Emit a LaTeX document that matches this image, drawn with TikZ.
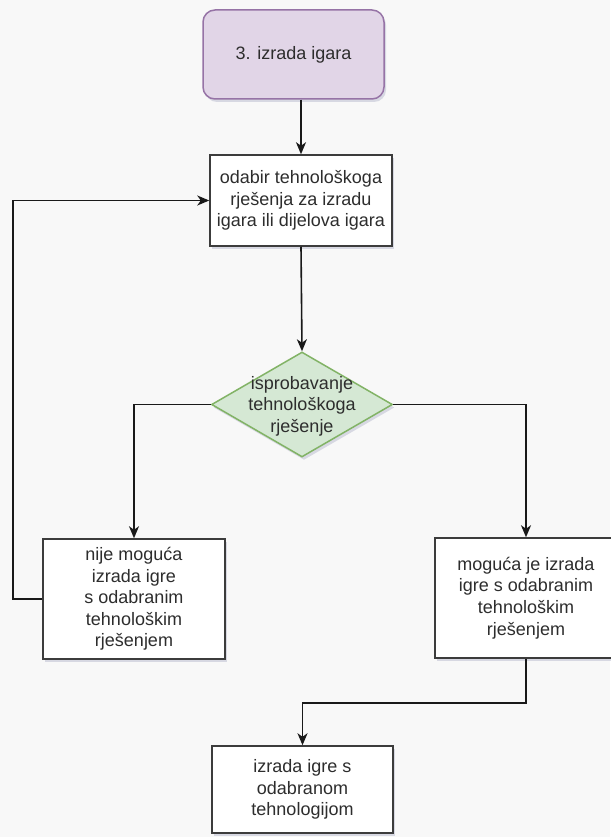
\documentclass[tikz,border=0pt]{standalone}
\usepackage{fontspec}
\setmainfont{Liberation Sans}
\usetikzlibrary{arrows.meta,shapes.geometric,shadows}
\definecolor{bgc}{RGB}{248,248,248}
\definecolor{txt}{RGB}{45,45,45}
\definecolor{lnc}{RGB}{25,25,25}
\definecolor{purfill}{RGB}{225,213,231}
\definecolor{purdraw}{RGB}{150,115,166}
\definecolor{grnfill}{RGB}{213,232,212}
\definecolor{grndraw}{RGB}{130,179,102}
\definecolor{shc}{RGB}{175,178,200}
\tikzset{
  shd/.style={drop shadow={shadow xshift=2pt,shadow yshift=-3pt,opacity=0.45,fill=shc}},
  label text/.style={font=\fontsize{18}{21.6}\selectfont, text=txt, align=center, inner sep=0pt},
  base/.style={label text, line width=1.5pt, shd},
  box/.style={base, rectangle, draw=lnc!85, fill=white},
  startbox/.style={base, rectangle, rounded corners=12pt, draw=purdraw, fill=purfill},
  decide/.style={base, diamond, aspect=1.72, draw=grndraw, fill=grnfill},
  conn/.style={draw=lnc, line width=1.6pt, -{Stealth[length=12pt,width=10pt,inset=3.5pt]}}
}
\begin{document}
\begin{tikzpicture}[x=1pt,y=-1pt]
\useasboundingbox[fill=bgc] (0,0) rectangle (610,837);
\node[startbox, minimum width=181pt, minimum height=89pt] (top) at (293.5,54.5) {3. izrada igara};
\node[box, minimum width=182pt, minimum height=91pt] (sel) at (301,200.5) {odabir tehnološkoga\\rješenja za izradu\\igara ili dijelova igara};
\node[decide, minimum width=181pt, minimum height=105pt] (dia) at (302,404.5) {};
\node[label text] (diatext) at (302,406) {isprobavanje\\tehnološkoga\\rješenje};
\node[box, minimum width=182pt, minimum height=120pt] (no) at (134,599) {nije moguća\\izrada igre\\s odabranim\\tehnološkim\\rješenjem};
\node[box, minimum width=182pt, minimum height=120pt] (yes) at (526,598) {moguća je izrada\\igre s odabranim\\tehnološkim\\rješenjem};
\node[box, minimum width=181pt, minimum height=87pt] (fin) at (302.5,789.5) {izrada igre s\\odabranom\\tehnologijom};
\coordinate (loopc) at (13,599);
\coordinate (jog) at (414,703);
\draw[conn] (sel.north |- top.south) -- (sel.north);
\draw[conn] (sel.south) -- (dia.north);
\draw[conn] (dia.west) -| (no.north);
\draw[conn] (dia.east) -| (yes.north);
\draw[conn] (no.west) -- (loopc) |- (sel.west);
\draw[conn] (yes.south) |- (jog) -| (fin.north);
\end{tikzpicture}
\end{document}
